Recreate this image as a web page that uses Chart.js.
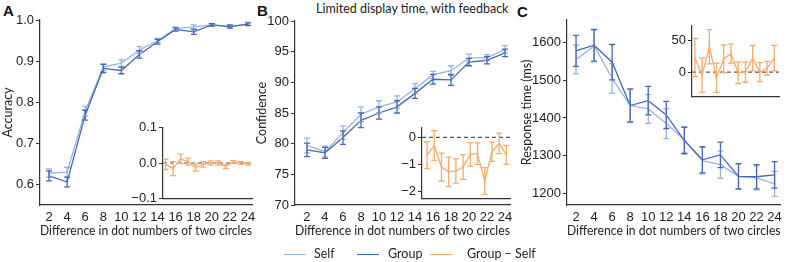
<!DOCTYPE html>
<html>
<head>
<meta charset="utf-8">
<script src="https://cdn.jsdelivr.net/npm/chart.js@4.4.0/dist/chart.umd.min.js"></script>
<style>
  body { margin: 0; background: #fff; width: 787px; height: 262px; position: relative; overflow: hidden; }
  canvas { position: absolute; }
  .letter { position: absolute; font: bold 15px "Liberation Sans", Arial, sans-serif; color: #111; }
  .txt { position: absolute; font: 12.5px Lato, sans-serif; color: #222; white-space: nowrap; }
  .key { position: absolute; height: 0; border-top: 1.5px solid; width: 22px; }
</style>
</head>
<body>
<div class="letter" style="left:3px;top:2px">A</div>
<div class="letter" style="left:257px;top:2px">B</div>
<div class="letter" style="left:517px;top:3px">C</div>
<div class="txt" style="left:316px;top:1px">Limited display time, with feedback</div>

<canvas id="chartA" width="262" height="262" style="left:0;top:0"></canvas>
<canvas id="chartB" width="272" height="262" style="left:252px;top:0"></canvas>
<canvas id="chartC" width="272" height="262" style="left:515px;top:0"></canvas>
<canvas id="insetA" width="130" height="90" style="left:125px;top:118px"></canvas>
<canvas id="insetB" width="135" height="90" style="left:380px;top:118px"></canvas>
<canvas id="insetC" width="135" height="90" style="left:650px;top:16px"></canvas>

<div class="key" style="left:284px;top:254px;border-color:#96b4e0"></div>
<div class="txt" style="left:314px;top:246px">Self</div>
<div class="key" style="left:357px;top:254px;border-color:#4468b6"></div>
<div class="txt" style="left:388px;top:246px">Group</div>
<div class="key" style="left:430px;top:254px;border-color:#f6aa6c"></div>
<div class="txt" style="left:467px;top:246px">Group &#8211; Self</div>

<script>
// difference in dot numbers
const diffs = [2, 4, 6, 8, 10, 12, 14, 16, 18, 20, 22, 24];

// A: accuracy
const accSelf     = [0.627, 0.629, 0.778, 0.885, 0.895, 0.927, 0.950, 0.979, 0.983, 0.988, 0.984, 0.990];
const accSelfErr  = [0.010, 0.012, 0.012, 0.008, 0.008, 0.008, 0.005, 0.004, 0.005, 0.003, 0.003, 0.004];
const accGroup    = [0.620, 0.605, 0.768, 0.882, 0.877, 0.916, 0.947, 0.977, 0.971, 0.988, 0.984, 0.990];
const accGroupErr = [0.012, 0.012, 0.012, 0.010, 0.008, 0.009, 0.006, 0.004, 0.006, 0.003, 0.004, 0.003];
const accDiff     = [-0.004, -0.016, 0.012, 0.004, -0.013, -0.004, 0.000, 0.000, -0.010, 0.003, 0.000, -0.002];
const accDiffErr  = [0.015, 0.020, 0.013, 0.010, 0.010, 0.008, 0.006, 0.006, 0.006, 0.004, 0.004, 0.004];

// B: confidence
const confSelf     = [79.7, 78.7, 81.8, 84.8, 86.0, 86.8, 89.0, 91.2, 91.9, 94.0, 94.0, 95.4];
const confSelfErr  = [1.2, 0.9, 1.1, 1.2, 1.0, 1.0, 0.8, 0.6, 0.8, 0.6, 0.5, 0.6];
const confGroup    = [79.0, 78.5, 81.0, 83.8, 85.0, 86.0, 88.2, 90.5, 90.4, 93.3, 93.6, 94.8];
const confGroupErr = [1.1, 0.9, 1.1, 1.2, 1.0, 1.0, 0.8, 0.8, 0.9, 0.6, 0.6, 0.6];
const confDiff     = [-0.66, -0.30, -1.10, -1.28, -1.25, -1.10, -0.63, -0.60, -1.62, -0.53, -0.22, -0.65];
const confDiffErr  = [0.50, 0.55, 0.52, 0.55, 0.45, 0.46, 0.44, 0.40, 0.50, 0.36, 0.38, 0.35];

// C: response time (ms)
const rtSelf     = [1555, 1591, 1505, 1433, 1424, 1385, 1342, 1287, 1276, 1245, 1241, 1225];
const rtSelfErr  = [38, 42, 39, 43, 38, 40, 35, 35, 36, 33, 32, 33];
const rtGroup    = [1578, 1593, 1548, 1433, 1446, 1408, 1340, 1289, 1302, 1245, 1244, 1249];
const rtGroupErr = [41, 42, 47, 44, 38, 36, 35, 35, 34, 34, 32, 35];
const rtDiff     = [23, -5, 40, -9, 21, 29, -1, 0, 22, 0, 6, 22];
const rtDiffErr  = [30, 27, 27, 23, 22, 15, 17, 16, 20, 15, 11, 20];

const cSelf = '#96b4e0', cGroup = '#4468b6', cDiff = '#f6aa6c', cAxis = '#333';
const tickFont = { family: 'Liberation Sans', size: 13 };
const titleFont = { family: 'Lato', size: 12.5 };

const pts = (ys) => diffs.map((x, i) => ({ x: x, y: ys[i] }));
const minus = (s) => String(s).replace('-', '\u2212');

// error bars drawn from each dataset's "errors" array
const errorBars = {
  id: 'errorBars',
  afterDatasetsDraw(chart) {
    const ctx = chart.ctx, ys = chart.scales.y;
    const sets = chart.data.datasets;
    for (let i = sets.length - 1; i >= 0; i--) {
      const ds = sets[i];
      if (!ds.errors) continue;
      const meta = chart.getDatasetMeta(i);
      ctx.save();
      ctx.strokeStyle = ds.borderColor;
      ctx.lineWidth = 1.3;
      meta.data.forEach((p, j) => {
        const v = ds.data[j].y, e = ds.errors[j];
        const t = ys.getPixelForValue(v + e), b = ys.getPixelForValue(v - e);
        ctx.beginPath();
        ctx.moveTo(p.x, t); ctx.lineTo(p.x, b);
        ctx.moveTo(p.x - 3, t); ctx.lineTo(p.x + 3, t);
        ctx.moveTo(p.x - 3, b); ctx.lineTo(p.x + 3, b);
        ctx.stroke();
      });
      ctx.restore();
    }
  }
};

function lineSet(label, ys, errs, color) {
  return { label: label, data: pts(ys), errors: errs, borderColor: color, borderWidth: 1.3,
           pointRadius: 0, tension: 0, fill: false };
}

function mainChart(id, o) {
  return new Chart(document.getElementById(id), {
    type: 'line',
    data: { datasets: [lineSet('Group', o.group, o.groupErr, cGroup), lineSet('Self', o.self, o.selfErr, cSelf)] },
    plugins: [errorBars],
    options: {
      responsive: false, animation: false, devicePixelRatio: 1,
      layout: { padding: { left: 0, right: o.padRight, top: o.padTop, bottom: 17 } },
      plugins: { legend: { display: false }, tooltip: { enabled: false } },
      scales: {
        x: {
          type: 'linear', min: o.xMin, max: o.xMax,
          afterBuildTicks: (s) => { s.ticks = diffs.map(v => ({ value: v })); },
          afterFit: (s) => { s.height = 40; },
          grid: { display: false, drawTicks: false },
          border: { color: cAxis, width: 1.2 },
          ticks: { font: tickFont, color: '#222', padding: 5, maxRotation: 0, autoSkip: false },
          title: { display: true, text: 'Difference in dot numbers of two circles', font: titleFont,
                   color: '#222', padding: { top: 0, bottom: 7 } }
        },
        y: {
          min: o.yMin, max: o.yMax,
          afterBuildTicks: (s) => { s.ticks = o.yTicks.map(v => ({ value: v })); },
          afterFit: (s) => { s.width = o.yWidth; },
          grid: { drawOnChartArea: false, drawTicks: true, tickLength: 4, color: cAxis },
          border: { color: cAxis, width: 1.2 },
          ticks: { font: tickFont, color: '#222', padding: 2, callback: o.fmt },
          title: { display: true, text: o.yTitle, font: titleFont, color: '#222',
                   padding: { top: o.titlePad, bottom: 0 } }
        }
      }
    }
  });
}

function insetChart(id, o) {
  return new Chart(document.getElementById(id), {
    type: 'line',
    data: { datasets: [
      { label: 'Group \u2013 Self', data: pts(o.diff), errors: o.diffErr, borderColor: cDiff,
        borderWidth: 1.3, pointRadius: 0, tension: 0 },
      { label: 'zero', data: [{ x: o.xMin, y: 0 }, { x: o.xMax, y: 0 }], borderColor: '#555',
        borderWidth: 1.2, borderDash: [4, 3], pointRadius: 0 }
    ] },
    plugins: [errorBars],
    options: {
      responsive: false, animation: false, devicePixelRatio: 1,
      layout: { padding: { left: 0, right: o.padRight, top: 9, bottom: o.padBottom } },
      plugins: { legend: { display: false }, tooltip: { enabled: false } },
      scales: {
        x: {
          type: 'linear', min: o.xMin, max: o.xMax,
          afterFit: (s) => { s.height = 0; },
          grid: { display: false, drawTicks: false },
          border: { color: cAxis, width: 1.2 },
          ticks: { display: false }
        },
        y: {
          min: o.yMin, max: o.yMax,
          afterBuildTicks: (s) => { s.ticks = o.yTicks.map(v => ({ value: v })); },
          afterFit: (s) => { s.width = o.yWidth; },
          grid: { drawOnChartArea: false, drawTicks: true, tickLength: 4, color: cAxis },
          border: { color: cAxis, width: 1.2 },
          ticks: { font: tickFont, color: '#222', padding: 2, callback: o.fmt }
        }
      }
    }
  });
}

mainChart('chartA', {
  self: accSelf, selfErr: accSelfErr, group: accGroup, groupErr: accGroupErr,
  xMin: 1.0, xMax: 24.45, yMin: 0.549, yMax: 1.0, yTicks: [0.6, 0.7, 0.8, 0.9, 1.0],
  fmt: (v) => v.toFixed(1), yTitle: 'Accuracy', yWidth: 40, padRight: 10, padTop: 20, titlePad: 0
});
mainChart('chartB', {
  self: confSelf, selfErr: confSelfErr, group: confGroup, groupErr: confGroupErr,
  xMin: 0.67, xMax: 24.55, yMin: 70, yMax: 100, yTicks: [70, 75, 80, 85, 90, 95, 100],
  fmt: (v) => String(v), yTitle: 'Confidence', yWidth: 43, padRight: 14, padTop: 21, titlePad: 2
});
mainChart('chartC', {
  self: rtSelf, selfErr: rtSelfErr, group: rtGroup, groupErr: rtGroupErr,
  xMin: 1.0, xMax: 24.66, yMin: 1169, yMax: 1660, yTicks: [1200, 1300, 1400, 1500, 1600],
  fmt: (v) => String(v), yTitle: 'Response time (ms)', yWidth: 52, padRight: 6, padTop: 20, titlePad: 4
});

insetChart('insetA', {
  diff: accDiff, diffErr: accDiffErr, xMin: 1.3, xMax: 25.0,
  yMin: -0.1, yMax: 0.1, yTicks: [-0.1, 0.0, 0.1], fmt: (v) => minus(v.toFixed(1)),
  yWidth: 38, padRight: 3, padBottom: 9
});
insetChart('insetB', {
  diff: confDiff, diffErr: confDiffErr, xMin: 0.6, xMax: 25.0,
  yMin: -2.26, yMax: 0.36, yTicks: [-2, -1, 0], fmt: (v) => minus(v),
  yWidth: 42, padRight: 5, padBottom: 9
});
insetChart('insetC', {
  diff: rtDiff, diffErr: rtDiffErr, xMin: 1.2, xMax: 25.3,
  yMin: -38, yMax: 73, yTicks: [0, 50], fmt: (v) => minus(v),
  yWidth: 42, padRight: 6, padBottom: 8
});
</script>
</body>
</html>
